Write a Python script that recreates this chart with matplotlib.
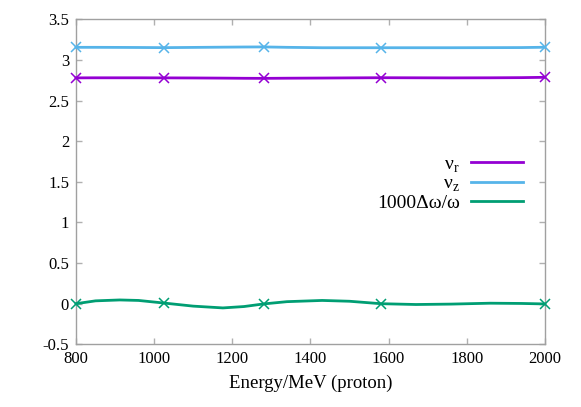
import matplotlib
matplotlib.use("Agg")
import matplotlib.pyplot as plt
from matplotlib.lines import Line2D

plt.rcParams['font.family'] = ['Liberation Serif', 'DejaVu Serif']
plt.rcParams['mathtext.fontset'] = 'custom'
plt.rcParams['mathtext.rm'] = 'Liberation Serif'
plt.rcParams['axes.unicode_minus'] = False

# data
energy = [800, 850, 912, 960, 1025, 1100, 1176, 1230, 1280, 1340, 1430, 1500,
          1580, 1670, 1760, 1860, 1940, 2000]
nu_r = [2.779, 2.780, 2.780, 2.780, 2.779, 2.778, 2.776, 2.774, 2.773, 2.775,
        2.777, 2.779, 2.781, 2.780, 2.779, 2.780, 2.782, 2.786]
nu_z = [3.155, 3.155, 3.154, 3.153, 3.151, 3.154, 3.157, 3.159, 3.160, 3.155,
        3.150, 3.150, 3.150, 3.150, 3.150, 3.151, 3.152, 3.156]
dw = [0.0, 0.035, 0.046, 0.04, 0.008, -0.03, -0.052, -0.035, -0.003, 0.025,
      0.04, 0.03, 0.0, -0.01, -0.005, 0.006, 0.003, -0.003]
marked_energy = [800, 1025, 1280, 1580, 2000]

labels = ['ν$_\\mathrm{r}$', 'ν$_\\mathrm{z}$', '1000Δω/ω']
colors = ['#9400d3', '#56b4e9', '#009e73']
xticks = [800, 1000, 1200, 1400, 1600, 1800, 2000]
yticks = [-0.5, 0, 0.5, 1, 1.5, 2, 2.5, 3, 3.5]
ytick_labels = ['-0.5', '0', '0.5', '1', '1.5', '2', '2.5', '3', '3.5']

fig = plt.figure(figsize=(5.81, 4.07), dpi=100)
ax = fig.add_axes([0.1308, 0.154, 0.807, 0.7986])

marks = [energy.index(e) for e in marked_energy]
for ys, c in zip([nu_r, nu_z, dw], colors):
    ax.plot(energy, ys, color=c, lw=2, marker='x', markersize=7.5,
            markeredgewidth=1.1, markevery=marks, clip_on=False, zorder=3)

ax.set_xlim(800, 2000)
ax.set_ylim(-0.5, 3.5)
ax.set_xticks(xticks)
ax.set_yticks(yticks)
ax.set_yticklabels(ytick_labels)
for s in ax.spines.values():
    s.set_color('#a0a0a0')
    s.set_linewidth(1)
ax.tick_params(direction='in', length=4.5, width=1, color='#b0b0b0',
               top=True, right=True, labelsize=12, pad=5)
ax.set_xlabel('Energy/MeV (proton)', fontsize=13.5, labelpad=5)

handles = [Line2D([], [], color=c, lw=2) for c in colors]
ax.legend(handles, labels, loc='center right', bbox_to_anchor=(0.953, 0.494),
          frameon=False, markerfirst=False, fontsize=14, handlelength=2.65,
          handletextpad=0.6, labelspacing=0.02, borderpad=0, borderaxespad=0)

fig.savefig('out.png', dpi=100)
